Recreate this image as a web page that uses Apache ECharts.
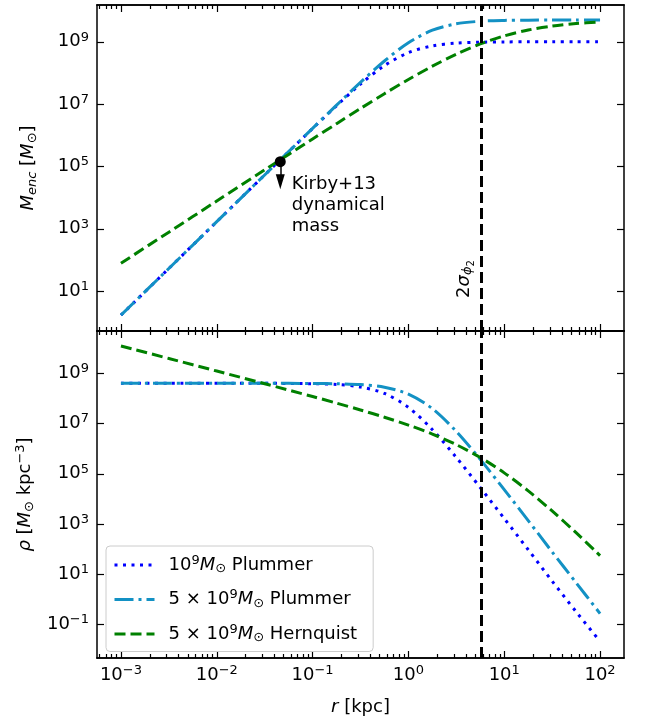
<!DOCTYPE html>
<html>
<head>
<meta charset="utf-8">
<script src="https://cdn.jsdelivr.net/npm/echarts@6/dist/echarts.min.js"></script>
<style>
  html, body { margin: 0; padding: 0; background: #fff; }
  #chart { width: 646px; height: 719px; }
</style>
</head>
<body>
<div id="chart"></div>
<script>
// radius samples [kpc]
const radius = [1e-3, 3.16e-3, 1e-2, 3.16e-2, 0.1, 0.178, 0.316, 0.562, 1, 1.78, 3.16, 5.62, 10, 17.8, 31.6, 56.2, 100]

// enclosed mass [Msun]
const massPlummer1 = [1.69, 53.3, 1.69e3, 5.33e4, 1.65e6, 8.89e6, 4.38e7, 1.72e8, 4.49e8, 7.40e8, 9.04e8, 9.68e8, 9.89e8, 9.97e8, 1.0e9, 1.0e9, 1.0e9]
const massPlummer5 = [1.69, 53.3, 1.69e3, 5.33e4, 1.67e6, 9.26e6, 4.96e7, 2.42e8, 9.32e8, 2.35e9, 3.78e9, 4.55e9, 4.85e9, 4.95e9, 4.99e9, 5.0e9, 5.0e9]
const massHernquist5 = [78.1, 780, 7.79e3, 7.75e4, 7.62e5, 2.36e6, 7.23e6, 2.16e7, 6.17e7, 1.65e8, 4.01e8, 8.52e8, 1.54e9, 2.38e9, 3.18e9, 3.83e9, 4.29e9]

// density [Msun kpc^-3]
const densPlummer1 = [4.03e8, 4.03e8, 4.03e8, 4.03e8, 3.89e8, 3.61e8, 2.89e8, 1.60e8, 4.44e7, 5.73e6, 4.49e5, 2.83e4, 1.66e3, 94.2, 5.32, 0.32, 0.021]
const densPlummer5 = [4.03e8, 4.03e8, 4.03e8, 4.03e8, 3.98e8, 3.87e8, 3.58e8, 2.82e8, 1.50e8, 3.95e7, 4.88e6, 3.75e5, 2.34e4, 1.37e3, 77.6, 4.6, 0.27]
const densHernquist5 = [1.24e10, 3.93e9, 1.24e9, 3.89e8, 1.20e8, 6.55e7, 3.50e7, 1.80e7, 8.73e6, 3.83e6, 1.45e6, 4.48e5, 1.09e5, 2.09e4, 3.3e3, 450, 55]

// Kirby+13 point [r kpc, M Msun], arrow tip mass
const kirbyPoint = [0.046, 1.42e5]
const kirbyArrowEnd = [0.046, 3.2e4]
// 2 sigma_phi2 radius [kpc]
const sigmaLine = [5.7]

// tick exponents
const xTickExp = [-3, -2, -1, 0, 1, 2]
const massTickExp = [1, 3, 5, 7, 9]
const densTickExp = [-1, 1, 3, 5, 7, 9]

const FONT = 'DejaVu Sans'
const xMin = -3.25, xMax = 2.25

const lg = v => Math.log10(v)
const pairs = ys => radius.map((r, i) => [lg(r), lg(ys[i])])

// minor ticks 2..9 x 10^n
const minorX = []
for (let n = -4; n <= 2; n++) {
  for (let k = 2; k <= 9; k++) {
    const v = lg(k) + n
    if (v > xMin && v < xMax) minorX.push(v)
  }
}

const rich = {
  sup: { fontSize: 13, fontFamily: FONT, color: '#000', padding: [0, 0, 9, 0] },
  sub: { fontSize: 13, fontFamily: FONT, color: '#000', padding: [8, 0, 0, 0] },
  subi: { fontSize: 13, fontFamily: FONT, fontStyle: 'italic', color: '#000', padding: [8, 0, 0, 0] },
  i: { fontSize: 18, fontFamily: FONT, fontStyle: 'italic', color: '#000' },
  n: { fontSize: 18, fontFamily: FONT, color: '#000' }
}

const expLabel = v => {
  const e = Math.round(v)
  return '{n|10}{sup|' + (e < 0 ? '\u2212' + (-e) : e) + '}'
}

function xAx (grid, pos, ticks, len, extra) {
  return Object.assign({
    type: 'value', gridIndex: grid, position: pos, min: xMin, max: xMax,
    axisLine: { show: true, onZero: false, lineStyle: { color: '#000', width: 1.5 } },
    axisTick: { show: true, inside: true, length: len, customValues: ticks, lineStyle: { color: '#000', width: 1.2 } },
    axisLabel: { show: false },
    splitLine: { show: false }
  }, extra || {})
}

function yAx (grid, pos, ticks, range, extra) {
  return Object.assign({
    type: 'value', gridIndex: grid, position: pos, min: range[0], max: range[1],
    axisLine: { show: true, onZero: false, lineStyle: { color: '#000', width: 1.5 } },
    axisTick: { show: true, inside: true, length: 7, customValues: ticks, lineStyle: { color: '#000', width: 1.2 } },
    axisLabel: { show: false },
    splitLine: { show: false }
  }, extra || {})
}

const massRange = [-0.28, 10.18]
const densRange = [-2.34, 10.69]

const xAxes = [
  xAx(0, 'bottom', xTickExp, 7),
  xAx(0, 'bottom', minorX, 4),
  xAx(0, 'top', xTickExp, 7),
  xAx(0, 'top', minorX, 4),
  xAx(1, 'bottom', xTickExp, 7, {
    axisLabel: { show: true, customValues: xTickExp, formatter: expLabel, margin: 6, rich: rich },
    name: '{i|r}{n| [kpc]}', nameLocation: 'middle', nameGap: 40,
    nameTextStyle: { rich: rich }
  }),
  xAx(1, 'bottom', minorX, 4),
  xAx(1, 'top', xTickExp, 7),
  xAx(1, 'top', minorX, 4)
]

const yAxes = [
  yAx(0, 'left', massTickExp, massRange, {
    axisLabel: { show: true, customValues: massTickExp, formatter: expLabel, margin: 8, rich: rich },
    name: '{i|M}{subi|enc}{n| [}{i|M}{sub|\u2299}{n|]}', nameLocation: 'middle', nameGap: 58, nameRotate: 90,
    nameTextStyle: { rich: rich }
  }),
  yAx(0, 'right', massTickExp, massRange),
  yAx(1, 'left', densTickExp, densRange, {
    axisLabel: { show: true, customValues: densTickExp, formatter: expLabel, margin: 8, rich: rich },
    name: '{i|\u03c1}{n| [}{i|M}{sub|\u2299}{n| kpc}{sup|\u22123}{n|]}', nameLocation: 'middle', nameGap: 58, nameRotate: 90,
    nameTextStyle: { rich: rich }
  }),
  yAx(1, 'right', densTickExp, densRange)
]

const BLUE = '#0000ff'
const CYAN = '#1391c4'
const GREEN = '#008000'

const styles = {
  p1: { color: BLUE, width: 3, type: [3, 5.5] },
  p5: { color: CYAN, width: 3, type: [19, 5, 3, 5] },
  h5: { color: GREEN, width: 3, type: [11, 5] }
}

const vline = {
  silent: true, symbol: 'none', animation: false,
  label: { show: false },
  lineStyle: { color: '#000', width: 3, type: [11, 5] },
  data: [{ xAxis: lg(sigmaLine[0]) }]
}

function curve (name, ys, grid, withLine) {
  const s = {
    type: 'line', name: name, xAxisIndex: grid * 4, yAxisIndex: grid * 2,
    data: pairs(ys), showSymbol: false, symbol: 'none',
    smooth: 0.3,
    lineStyle: styles[name], itemStyle: { color: styles[name].color },
    animation: false, silent: true
  }
  if (withLine) s.markLine = vline
  return s
}

const legendNames = {
  p1: '{n|10}{sup|9}{i|M}{sub|\u2299}{n| Plummer}',
  p5: '{n|5 \u00d7 10}{sup|9}{i|M}{sub|\u2299}{n| Plummer}',
  h5: '{n|5 \u00d7 10}{sup|9}{i|M}{sub|\u2299}{n| Hernquist}'
}

const option = {
  backgroundColor: '#fff',
  animation: false,
  grid: [
    { left: 97, top: 5, width: 527, height: 326 },
    { left: 97, top: 331, width: 527, height: 327 }
  ],
  xAxis: xAxes,
  yAxis: yAxes,
  legend: {
    data: ['p1', 'p5', 'h5'],
    orient: 'vertical',
    left: 106, top: 546,
    padding: [8, 16, 7, 7],
    itemWidth: 40, itemHeight: 14, itemGap: 13,
    backgroundColor: 'rgba(255,255,255,0.8)',
    borderColor: '#cccccc', borderWidth: 1, borderRadius: 4,
    selectedMode: false,
    itemStyle: { opacity: 0 },
    lineStyle: { width: 'inherit' },
    formatter: n => legendNames[n],
    textStyle: { rich: rich, padding: [0, 0, 0, 9] }
  },
  graphic: [{
    type: 'text', x: 464, y: 279, rotation: Math.PI / 2, silent: true,
    style: {
      text: '{n|2}{i|\u03c3}{s|\u03d5}{ss|2}',
      align: 'center', verticalAlign: 'middle',
      rich: {
        n: { fontSize: 18, fontFamily: FONT, fill: '#000' },
        i: { fontSize: 18, fontFamily: FONT, fontStyle: 'italic', fill: '#000' },
        s: { fontSize: 13, fontFamily: FONT, fontStyle: 'italic', fill: '#000', padding: [8, 0, 0, 0] },
        ss: { fontSize: 10, fontFamily: FONT, fill: '#000', padding: [14, 0, 0, 0] }
      }
    }
  }],
  series: [
    curve('p1', massPlummer1, 0, false),
    curve('p5', massPlummer5, 0, false),
    curve('h5', massHernquist5, 0, true),
    curve('p1', densPlummer1, 1, false),
    curve('p5', densPlummer5, 1, false),
    curve('h5', densHernquist5, 1, true),
    {
      type: 'scatter', name: 'kirby', xAxisIndex: 0, yAxisIndex: 0, z: 5,
      data: [[lg(kirbyPoint[0]), lg(kirbyPoint[1])]],
      symbolSize: 11, itemStyle: { color: '#000', opacity: 1 }, silent: true,
      label: {
        show: true, position: 'right', distance: 6, offset: [0, 44],
        formatter: 'Kirby+13\ndynamical\nmass',
        fontFamily: FONT, fontSize: 18, lineHeight: 21, color: '#000', align: 'left'
      },
      markLine: {
        silent: true, animation: false,
        symbol: ['none', 'triangle'], symbolSize: [9, 15],
        label: { show: false },
        lineStyle: { color: '#000', width: 1.5, type: 'solid', opacity: 1 },
        data: [[
          { coord: [lg(kirbyPoint[0]), lg(kirbyPoint[1])] },
          { coord: [lg(kirbyArrowEnd[0]), lg(kirbyArrowEnd[1])] }
        ]]
      }
    }
  ]
}

const myChart = echarts.init(document.getElementById('chart'))
myChart.setOption(option)
window.addEventListener('resize', () => {
  myChart.resize()
})
</script>
</body>
</html>
